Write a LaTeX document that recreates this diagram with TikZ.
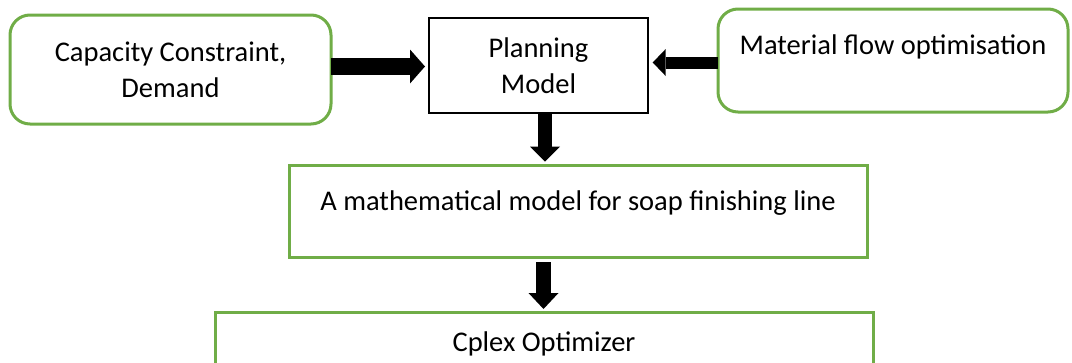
\documentclass[tikz,border=0pt]{standalone}
\usepackage{fontspec}
\setmainfont{Carlito}
\usetikzlibrary{arrows.meta}
\definecolor{boxgreen}{RGB}{112,173,71}
\tikzset{
  boxfont/.style={font=\fontsize{28.5}{35.7}\selectfont},
  greenbox/.style={draw=boxgreen, line width=3pt, inner sep=0pt, outer sep=0pt, align=center, boxfont},
  blackbox/.style={draw=black, line width=2.5pt, inner sep=0pt, outer sep=0pt, align=center, boxfont},
  blockarrow/.style n args={4}{draw=black, line width=#1, -{Triangle[length=#2, width=#3, line width=0pt]}, shorten >=#4}
}
\begin{document}
\begin{tikzpicture}[x=1pt, y=-1pt]
\useasboundingbox (0,0) rectangle (1072,362);
\clip (0,0) rectangle (1072,362);

\node[greenbox, rounded corners=20pt, minimum width=321pt, minimum height=109pt] (cap) at (170.5,69.5) {Capacity Constraint,\\Demand};
\node[blackbox, minimum width=219pt, minimum height=95pt] (plan) at (538.5,65.5) {Planning\\Model};
\node[greenbox, rounded corners=20pt, minimum width=350pt, text height=45pt, text depth=58pt, anchor=north] (mat) at (893,9) {Material flow optimisation};
\node[greenbox, minimum width=578pt, text height=45pt, text depth=47.5pt, anchor=north] (math) at (578,165) {A mathematical model for soap finishing line};
\node[greenbox, minimum width=658pt, text height=38.5pt, text depth=21.5pt, anchor=north] (cplex) at (544,312.5) {Cplex Optimizer};

\coordinate (a1) at ([yshift=3pt]cap.east);
\coordinate (a2) at ([yshift=-2pt]mat.west);
\coordinate (a3) at ([xshift=6.5pt]plan.south);
\coordinate (a4) at ([xshift=-34.5pt]math.south);

\draw[blockarrow={17pt}{15pt}{34pt}{4pt}] (a1) -- (a1 -| plan.west);
\draw[blockarrow={12pt}{13pt}{27pt}{4.7pt}] (a2) -- (a2 -| plan.east);
\draw[blockarrow={14pt}{15pt}{30pt}{3.3pt}] (a3) -- (a3 |- math.north);
\draw[blockarrow={15pt}{16pt}{30pt}{3.5pt}, shorten <=4.5pt] (a4) -- (a4 |- cplex.north);
\end{tikzpicture}
\end{document}
